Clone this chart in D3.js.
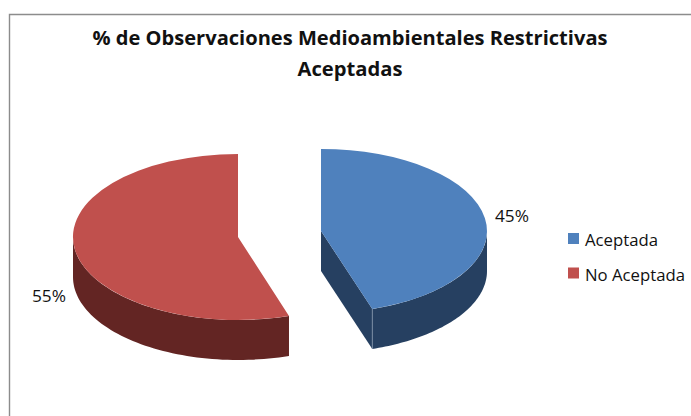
<!DOCTYPE html>
<html>
<head>
<meta charset="utf-8">
<script src="https://cdn.jsdelivr.net/npm/d3@7"></script>
<style>
  html, body { margin: 0; background: #fff; }
  svg { display: block; }
  text { font-family: "Open Sans", sans-serif; fill: #111; }
</style>
</head>
<body>
<svg id="chart" width="691" height="416"></svg>
<script>
var categories = ["Aceptada", "No Aceptada"];
var values = [45, 55];
var titleLines = ["% de Observaciones Medioambientales Restrictivas", "Aceptadas"];

var topColors = ["#4f81bd", "#c0504d"];
var sideColors = ["#264061", "#632523"];

// cada porción está separada, por eso tiene su propio centro y radio
var centers = [[321, 231], [238, 237]];
var radiiX = [166, 165];
var radiiY = [82, 83];
var depth = 40;

var svg = d3.select("#chart");

// marco del gráfico, recortado arriba y a la derecha
svg.append("path")
  .attr("d", "M9.5,416V14.5H691")
  .attr("fill", "none")
  .attr("stroke", "#8c8c8c")
  .attr("stroke-width", 1.4);

svg.selectAll("text.title")
  .data(titleLines)
  .enter().append("text")
  .attr("class", "title")
  .attr("x", 350)
  .attr("y", function (d, i) { return 45 + i * 31; })
  .attr("text-anchor", "middle")
  .attr("font-size", 19)
  .attr("font-weight", 700)
  .attr("textLength", function (d, i) { return i == 0 ? 515 : 105; })
  .attr("lengthAdjust", "spacingAndGlyphs")
  .text(function (d) { return d; });

var pie = d3.pie().sort(null);
var arc = d3.arc().innerRadius(0).outerRadius(1);
var slices = pie(values);

var line = d3.line();

slices.forEach(function (d, i) {
  var rx = radiiX[i], ry = radiiY[i];
  var g = svg.append("g")
    .attr("transform", "translate(" + centers[i] + ")");

  function point(a, dy) {
    return [rx * Math.sin(a), -ry * Math.cos(a) + dy];
  }

  // pared exterior: solo la parte que mira hacia delante
  var a0 = Math.max(d.startAngle, Math.PI / 2),
    a1 = Math.min(d.endAngle, Math.PI * 3 / 2);
  if (a1 > a0) {
    var angles = d3.range(0, 61).map(function (k) {
      return a0 + (a1 - a0) * k / 60;
    });
    var wall = angles.map(function (a) { return point(a, 0); })
      .concat(angles.slice().reverse().map(function (a) { return point(a, depth); }));
    g.append("path")
      .attr("d", line(wall) + "Z")
      .attr("fill", sideColors[i]);
  }

  // cara del corte, visible solo si mira al espectador
  if (d.endAngle < Math.PI) {
    g.append("path")
      .attr("d", line([[0, 0], point(d.endAngle, 0), point(d.endAngle, depth), [0, depth]]) + "Z")
      .attr("fill", sideColors[i]);
    g.append("path")
      .attr("d", line([point(d.endAngle, 0), point(d.endAngle, depth)]))
      .attr("stroke", "#8a9bb0")
      .attr("stroke-width", 0.7);
  }

  g.append("path")
    .attr("transform", "scale(" + rx + "," + ry + ")")
    .attr("d", arc(d))
    .attr("fill", topColors[i]);
});

// etiquetas de porcentaje
var labelPos = [[495, 222], [32, 302]];
svg.selectAll("text.pct")
  .data(values)
  .enter().append("text")
  .attr("class", "pct")
  .attr("x", function (d, i) { return labelPos[i][0]; })
  .attr("y", function (d, i) { return labelPos[i][1]; })
  .attr("font-size", 16.5)
  .attr("textLength", 34)
  .attr("lengthAdjust", "spacingAndGlyphs")
  .text(function (d) { return d + "%"; });

// leyenda
var legend = svg.selectAll("g.legend")
  .data(categories)
  .enter().append("g")
  .attr("class", "legend")
  .attr("transform", function (d, i) { return "translate(568," + (233 + i * 34.5) + ")"; });

legend.append("rect")
  .attr("width", 11)
  .attr("height", 11)
  .attr("fill", function (d, i) { return topColors[i]; });

legend.append("text")
  .attr("x", 17)
  .attr("y", 13)
  .attr("font-size", 16.5)
  .attr("textLength", function (d, i) { return i == 0 ? 73 : 100; })
  .attr("lengthAdjust", "spacingAndGlyphs")
  .text(function (d) { return d; });
</script>
</body>
</html>
